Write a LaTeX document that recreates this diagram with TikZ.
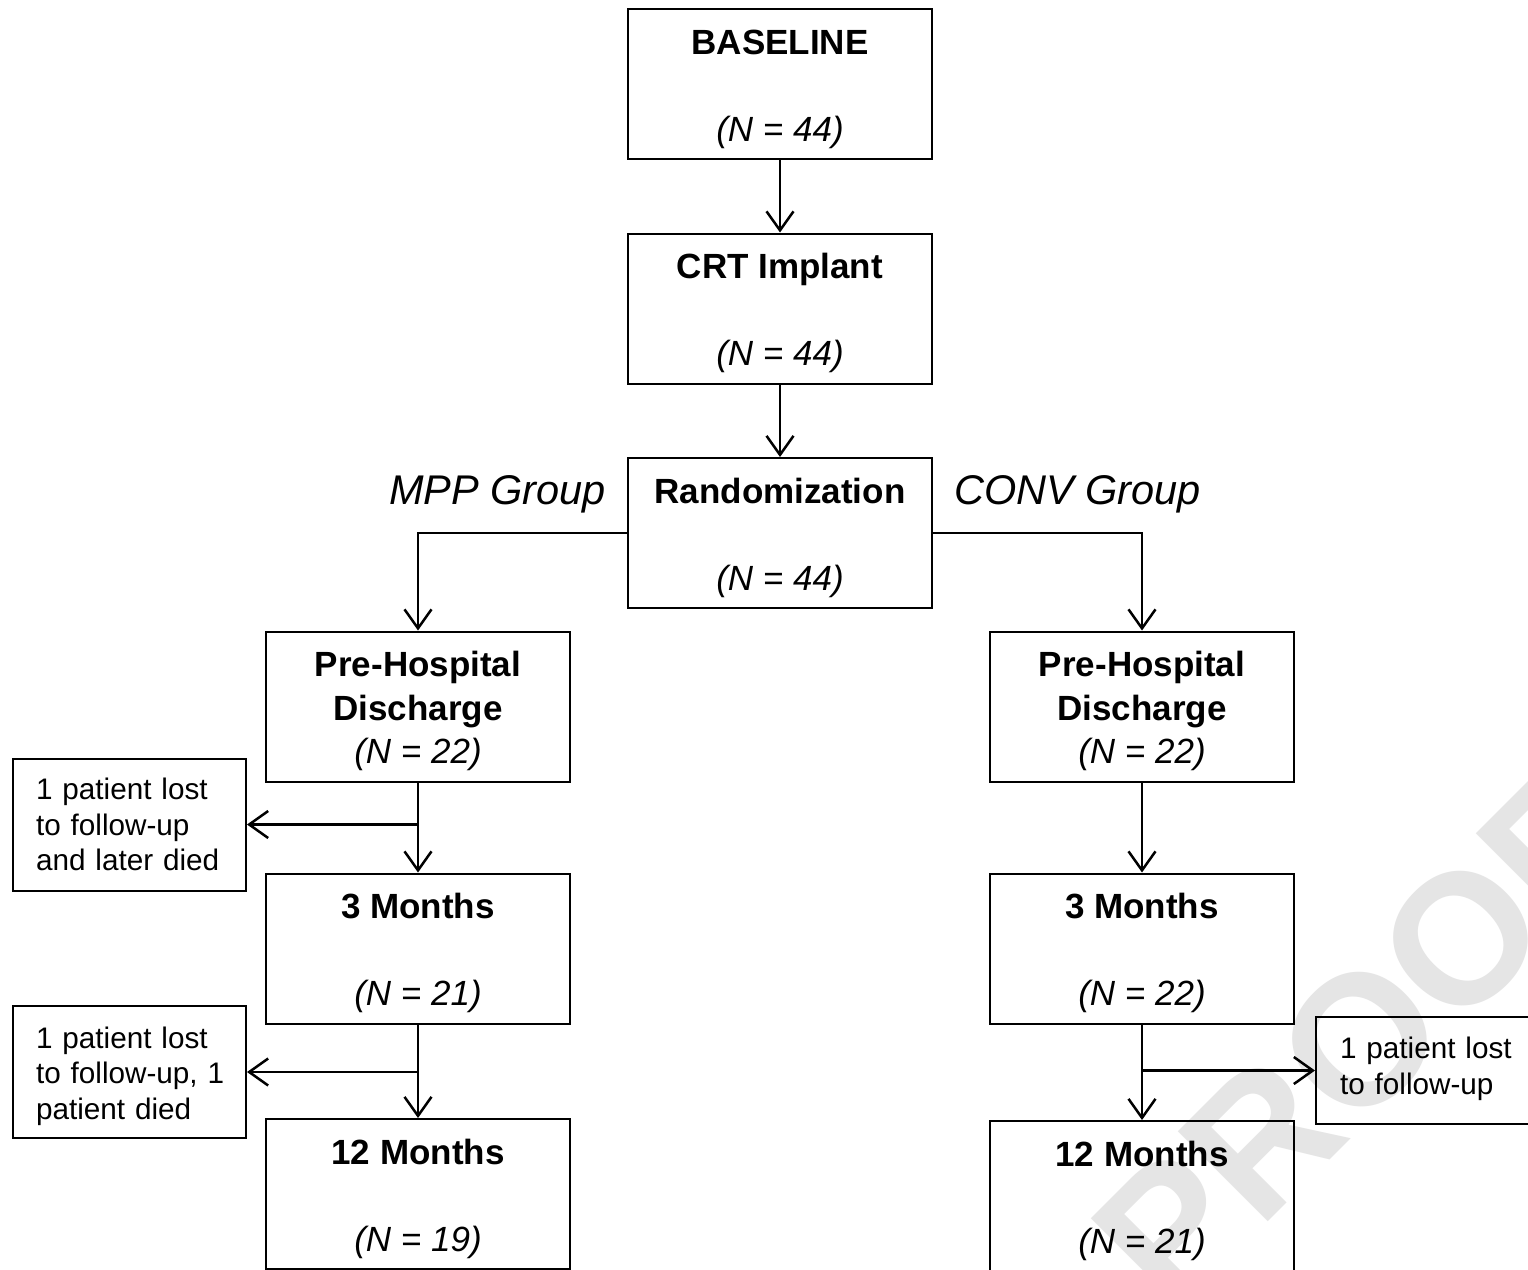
\documentclass[tikz,border=0pt]{standalone}
\usepackage{fontspec}
\setmainfont{Liberation Sans}
\usetikzlibrary{arrows.meta}
\newcommand\boxlift{\rule{0pt}{35pt}}
\begin{document}
\begin{tikzpicture}[x=1pt,y=-1pt,
  box/.style={draw=black, line width=2pt, minimum width=304pt, minimum height=150pt,
    inner sep=0pt, align=center, font=\fontsize{35}{43.5}\selectfont},
  sidebox/.style={draw=black, line width=2pt, inner ysep=0pt, inner xsep=23pt,
    text width=187pt, align=left, font=\fontsize{29.7}{35.5}\selectfont},
  grp/.style={anchor=base, font=\fontsize{41.5}{45}\selectfont\itshape},
  arr/.style={line width=2.5pt, -{Straight Barb[length=19pt,width=27pt,line join=miter]}},
  wm/.style={rotate=45, text=black!10, font=\fontsize{185}{185}\selectfont\bfseries}
]
\useasboundingbox (0,0) rectangle (1528,1269);
\fill[white] (0,0) rectangle (1528,1269);
% watermark
\node[wm] (wmark) at (1360,1040) {PROOF};
% main column
\node[box] (base) at (780,84) {\boxlift\textbf{BASELINE}\\\mbox{}\\\textit{(N = 44)}};
\node[box] (crt) at (780,308.5) {\boxlift\textbf{CRT Implant}\\\mbox{}\\\textit{(N = 44)}};
\node[box] (rand) at (780,533) {\boxlift\textbf{Randomization}\\\mbox{}\\\textit{(N = 44)}};
\node[grp] (mpp) at (497.5,504) {MPP Group};
\node[grp] (conv) at (1077.5,504) {CONV Group};
% left column
\node[box] (lpre) at (418,706.5) {\boxlift\textbf{Pre-Hospital}\\\textbf{Discharge}\\\textit{(N = 22)}};
\node[box] (l3) at (418,948.5) {\boxlift\textbf{3 Months}\\\mbox{}\\\textit{(N = 21)}};
\node[box] (l12) at (418,1194) {\boxlift\textbf{12 Months}\\\mbox{}\\\textit{(N = 19)}};
% right column
\node[box] (rpre) at (1142,706.5) {\boxlift\textbf{Pre-Hospital}\\\textbf{Discharge}\\\textit{(N = 22)}};
\node[box] (r3) at (1142,948.5) {\boxlift\textbf{3 Months}\\\mbox{}\\\textit{(N = 22)}};
\node[box] (r12) at (1142,1196) {\boxlift\textbf{12 Months}\\\mbox{}\\\textit{(N = 21)}};
% side boxes
\node[sidebox, minimum height=132pt] (ls1) at (129.5,824.5) {\mbox{1 patient lost}\\\mbox{to follow-up}\\\mbox{and later died}};
\node[sidebox, minimum height=132pt] (ls2) at (129.5,1072) {\rule{0pt}{30pt}\mbox{1 patient lost}\\\mbox{to follow-up, 1}\\\mbox{patient died}};
\node[sidebox, minimum height=107pt, inner xsep=24pt, text width=202pt] (rs) at (1441,1070.5) {\mbox{1 patient lost}\\\mbox{to follow-up}\rule[-10pt]{0pt}{10pt}};
% connectors
\draw[arr] (base) -- (crt);
\draw[arr] (crt) -- (rand);
\draw[arr] (rand.west) -| (lpre.north);
\draw[arr] (rand.east) -| (rpre.north);
\draw[arr] (lpre) -- (l3);
\draw[arr] (l3) -- (l12);
\draw[arr] (rpre) -- (r3);
\draw[arr] (r3) -- (r12);
\coordinate (lb1) at (lpre.south |- ls1.east);
\coordinate (lb2) at (l3.south |- ls2.east);
\coordinate (rb) at (r3.south |- rs.west);
\draw[arr] (lb1) -- (ls1.east);
\draw[arr] (lb2) -- (ls2.east);
\draw[arr] (rb) -- (rs.west);
\end{tikzpicture}
\end{document}
